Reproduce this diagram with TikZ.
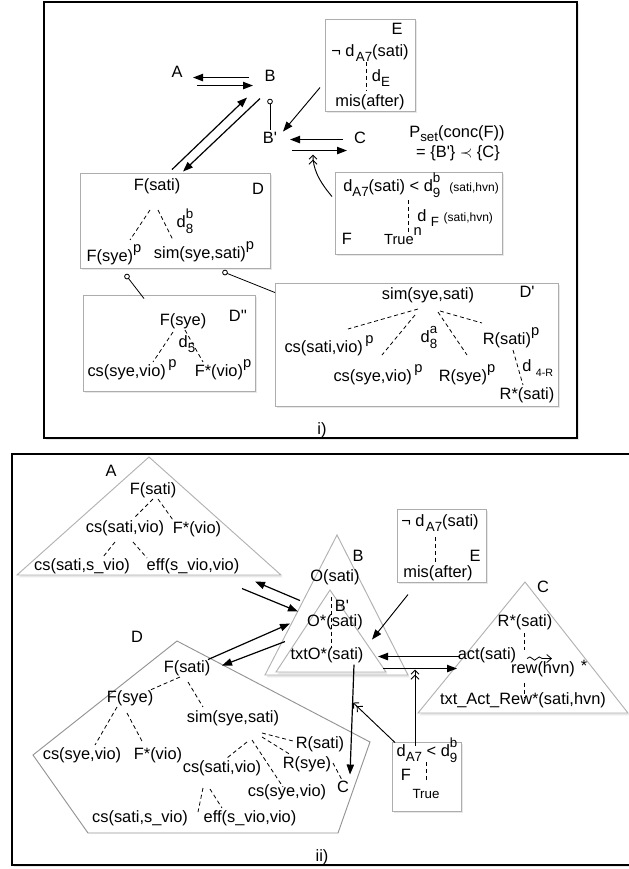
\documentclass[tikz,border=0pt]{standalone}
\usepackage{fontspec}
\setmainfont{Liberation Sans}
\usetikzlibrary{arrows.meta,shadows,decorations.pathmorphing,calc}
\newcommand\lsub[1]{\raisebox{-0.6ex}{\fontsize{10}{10}\selectfont #1}}
\newcommand\lsup[1]{\raisebox{1.1ex}{\fontsize{11}{11}\selectfont #1}}
\newcommand\lsupsub[2]{\rlap{\raisebox{1.1ex}{\fontsize{10}{10}\selectfont #1}}\raisebox{-0.7ex}{\fontsize{10}{10}\selectfont #2}}
\newcommand\smtxt[1]{{\fontsize{9}{9}\selectfont #1}}
\newcommand\pr{\textquotesingle}
\begin{document}
\begin{tikzpicture}[x=0.75pt,y=-0.75pt,
  font=\fontsize{12.3}{14}\selectfont,
  every node/.style={inner sep=0pt,anchor=base,yshift=-3.4pt},
  shad/.style={drop shadow={opacity=0.18,shadow xshift=1.2pt,shadow yshift=-1.8pt}},
  frame/.style={draw=black,line width=0.9pt,fill=white,shad},
  gbox/.style={draw=black!32,line width=0.7pt,fill=white,shad},
  tri/.style={draw=black!30,line width=0.7pt,fill=white,shad},
  pent/.style={draw=black!42,line width=0.7pt},
  dsh/.style={line width=0.6pt,dash pattern=on 3pt off 2.2pt},
  arr/.style={line width=0.9pt,-{Triangle[length=7.5pt,width=5.5pt]}},
  dbl/.style={line width=0.7pt,-{Straight Barb[length=3pt,width=6pt]Straight Barb[length=3pt,width=6pt]}},
  lnk/.style={line width=0.6pt},
]
\useasboundingbox (0,0) rectangle (629,869);

%%%%%%%%%%%%%%%% panel i
\path[frame] (44,2) rectangle (577,438);
\node (lbli) at (322,430) {i)};

% E box
\path[gbox] (325,19) rectangle (415,111);
\node (iE) at (397,30) {E};
\node (iEtop) at (370,52) {¬ d\kern1pt\lsub{A7}(sati)};
\draw[dsh] (366,62) -- (366,90);
\node (idE) at (381,77) {d\lsub{E}};
\node (imis) at (370,102) {mis(after)};

% simple labels
\node (iA) at (177,73) {A};
\node (iB) at (270,77) {B};
\node (iBp) at (270,139) {B\pr};
\node (iC) at (360,139) {C};
\node (iP) at (457,133) {P\raisebox{-0.45ex}{\fontsize{10}{10}\selectfont set}(conc(F))};
\node (iPeq) at (458,153) {= \{B\pr\} $\prec$ \{C\}};

% F box
\path[gbox] (335,172) rectangle (502,254);
\node[anchor=base west] (iFl1) at (343,187) {d\lsub{A7}(sati) < d\lsupsub{b}{9}\ \ \smtxt{(sati,hvn)}};
\draw[dsh] (408,200) -- (408,233);
\node[anchor=base west] (iFl2) at (417,217) {d\ \lsub{F}\ \smtxt{(sati,hvn)}};
\node (iFF) at (347,240) {F};
\node (iTrue) at (403,240) {{\fontsize{11}{11}\selectfont True}\lsup{n}};

% D box
\path[gbox] (80,173) rectangle (270,268);
\node (iDF) at (157,186) {F(sati)};
\node (iDD) at (258,190) {D};
\draw[dsh] (150,210) -- (130,240);
\draw[dsh] (158,210) -- (173,240);
\node (iDd8) at (185,223) {d\lsupsub{b}{8}};
\node (iDFs) at (114,257) {F(sye)\lsup{p}};
\node (iDsim) at (204,254) {sim(sye,sati)\lsup{p}};

% D'' box
\path[gbox] (83,295) rectangle (255,391);
\node (iDDF) at (183,321) {F(sye)};
\node (iDDl) at (238,317) {D\pr\pr};
\draw[dsh] (173,332) -- (153,362);
\draw[dsh] (185,330) -- (203,362);
\node (iDDd5) at (187,343) {d\lsub{5}};
\node (iDDcs) at (132,372) {cs(sye,vio)\lsup{\,p}};
\node (iDDFv) at (223,372) {F*(vio)\lsup{p}};

% D' box
\path[gbox] (275,283) rectangle (558,406);
\node (iDPsim) at (428,295) {sim(sye,sati)};
\node (iDPl) at (527,293) {D\pr};
\draw[dsh] (418,309) -- (348,329);
\draw[dsh] (415,315) -- (382,355);
\draw[dsh] (438,312) -- (467,355);
\draw[dsh] (440,311) -- (482,323);
\node (iDPcs1) at (329,348) {cs(sati,vio)\lsup{\,p}};
\node (iDPd8) at (429,338) {d\lsupsub{a}{8}};
\node (iDPRs) at (511,340) {R(sati)\lsup{p}};
\node (iDPcs2) at (378,377) {cs(sye,vio)\lsup{\,p}};
\node (iDPRy) at (467,377) {R(sye)\lsup{p}};
\draw[dsh] (513,350) -- (523,385);
\node[anchor=base west] (iDPd4) at (522,367) {d\ \lsub{\fontsize{8}{8}\selectfont 4-R}};
\node (iDPRst) at (527,395) {R*(sati)};

% connectors panel i
\coordinate (p1) at (249,73); \coordinate (p2) at (193,73);
\draw[arr] (p1) -- (p2);
\coordinate (p3) at (197,81); \coordinate (p4) at (253,81);
\draw[arr] (p3) -- (p4);
\coordinate (bc) at (270,97); \coordinate (bl) at (270,125);
\draw[lnk] (bc) circle[radius=1.8pt];
\draw[lnk] ([yshift=-1.8pt]bc) -- (bl);
\coordinate (p5) at (172,165); \coordinate (p6) at (247,93);
\draw[arr] (p5) -- (p6);
\coordinate (p7) at (260,94); \coordinate (p8) at (183,167);
\draw[arr] (p7) -- (p8);
\coordinate (p9) at (320,83); \coordinate (p10) at (283,127);
\draw[arr,line width=0.7pt] (p9) -- (p10);
\coordinate (p11) at (343,135); \coordinate (p12) at (290,135);
\draw[arr] (p11) -- (p12);
\coordinate (p13) at (292,146); \coordinate (p14) at (347,146);
\draw[arr] (p13) -- (p14);
\coordinate (p15) at (332,192); \coordinate (p16) at (313,150);
\draw[dbl] (p15) .. controls (318,180) and (313,168) .. (p16);
\coordinate (c1) at (127,272); \coordinate (c1e) at (144,294);
\draw[lnk] (c1) circle[radius=1.8pt];
\draw[lnk] ($(c1)!1.8pt!(c1e)$) -- (c1e);
\coordinate (c2) at (225,268); \coordinate (c2e) at (275,288);
\draw[lnk] (c2) circle[radius=1.8pt];
\draw[lnk] ($(c2)!1.8pt!(c2e)$) -- (c2e);

%%%%%%%%%%%%%%%% panel ii
\path[frame] (12,454) rectangle (640,865);
\node (lblii) at (322,857) {ii)};

% triangle A
\path[tri] (149,457) -- (17,575) -- (281,575) -- cycle;
\node (tA) at (111,472) {A};
\node (aF) at (153,490) {F(sati)};
\draw[dsh] (153,499) -- (135,517);
\draw[dsh] (158,499) -- (173,520);
\node (acs) at (125,528) {cs(sati,vio)};
\node (aFv) at (197,529) {F*(vio)};
\draw[dsh] (115,542) -- (103,557);
\draw[dsh] (133,542) -- (147,558);
\node (acss) at (82,566) {cs(sati,s\_vio)};
\node (aeff) at (193,566) {eff(s\_vio,vio)};

% triangle B and B'
\path[tri] (337,535) -- (265,675) -- (408,675) -- cycle;
\path[tri] (330,590) -- (276,672) -- (386,672) -- cycle;
\node (tB) at (358,557) {B};
\node (bO) at (335,577) {O(sati)};
\node (tBp) at (342,607) {B\pr};
\node (bOs) at (335,622) {O*(sati)};
\draw[dsh] (331,597) -- (331,648);
\node (btxt) at (327,655) {txtO*(sati)};

% E box ii
\path[gbox] (397,509) rectangle (486,582);
\node (eTop) at (440,522) {¬ d\kern1pt\lsub{A7}(sati)};
\draw[dsh] (435,537) -- (435,562);
\node (eE) at (475,557) {E};
\node (eMis) at (438,573) {mis(after)};

% triangle C
\path[tri] (525,582) -- (418,713) -- (628,713) -- cycle;
\node (tC) at (543,588) {C};
\node (cR) at (525,622) {R*(sati)};
\draw[dsh] (524,633) -- (524,650);
\node (cAct) at (487,655) {act(sati)};
\coordinate (s1) at (527,654); \coordinate (s2) at (552,654);
\draw[line width=0.6pt,-{Straight Barb[length=3.5pt,width=6pt]},decorate,
  decoration={snake,amplitude=1.2pt,segment length=7pt,post length=5pt}] (s1) -- (s2);
\node (cRew) at (543,669) {rew(hvn)};
\node (cStar) at (584,667) {*};
\draw[dsh] (524,683) -- (524,698);
\node (cTxt) at (523,700) {txt\_Act\_Rew*(sati,hvn)};

% pentagon D
\draw[pent] (177,641) -- (370,742) -- (338,833) -- (88,833) -- (33,755) -- cycle;
\node (tD) at (137,638) {D};
\node (dF) at (187,668) {F(sati)};
\draw[dsh] (180,677) -- (148,691);
\draw[dsh] (188,682) -- (203,707);
\node (dFs) at (130,698) {F(sye)};
\node (dSim) at (233,718) {sim(sye,sati)};
\draw[dsh] (117,707) -- (95,745);
\draw[dsh] (127,713) -- (143,743);
\node (dcs1) at (82,755) {cs(sye,vio)};
\node (dFv) at (158,755) {F*(vio)};
\draw[dsh] (247,742) -- (227,758);
\draw[dsh] (252,740) -- (283,787);
\draw[dsh] (262,733) -- (293,741);
\draw[dsh] (262,737) -- (291,755);
\node (dcs2) at (222,768) {cs(sati,vio)};
\node (dRs) at (320,744) {R(sati)};
\node (dRy) at (307,764) {R(sye)};
\node (dcs3) at (287,792) {cs(sye,vio)};
\draw[dsh] (333,763) -- (342,780);
\node (dC) at (343,788) {C};
\draw[dsh] (203,788) -- (198,812);
\draw[dsh] (210,789) -- (222,808);
\node (dcss) at (140,818) {cs(sati,s\_vio)};
\node (deff) at (250,818) {eff(s\_vio,vio)};

% F box ii
\path[gbox] (392,742) rectangle (461,811);
\node (fTop) at (427,752) {d\lsub{A7} < d\lsupsub{b}{9}};
\draw[dsh] (426,762) -- (426,782);
\node (fF) at (406,776) {F};
\node (fTrue) at (426,794) {{\fontsize{10}{10}\selectfont True}};

% connectors panel ii
\coordinate (q1) at (300,596); \coordinate (q2) at (255,577);
\draw[arr] (q1) -- (q2);
\coordinate (q3) at (242,584); \coordinate (q4) at (298,607);
\draw[arr] (q3) -- (q4);
\coordinate (q5) at (208,655); \coordinate (q6) at (290,619);
\draw[arr] (q5) -- (q6);
\coordinate (q7) at (285,637); \coordinate (q8) at (222,661);
\draw[arr] (q7) -- (q8);
\coordinate (q9) at (408,590); \coordinate (q10) at (372,635);
\draw[arr,line width=0.7pt] (q9) -- (q10);
\coordinate (q11) at (460,652); \coordinate (q12) at (378,652);
\draw[arr] (q11) -- (q12);
\coordinate (q13) at (383,664); \coordinate (q14) at (457,664);
\draw[arr] (q13) -- (q14);
\coordinate (q15) at (415,741); \coordinate (q16) at (415,665);
\draw[dbl] (q15) -- (q16);
\coordinate (q17) at (354,660); \coordinate (q18) at (350,770);
\draw[arr] (q17) -- (q18);
\coordinate (q19) at (395,738); \coordinate (q20) at (353,698);
\draw[dbl] (q19) -- (q20);
\end{tikzpicture}
\end{document}
